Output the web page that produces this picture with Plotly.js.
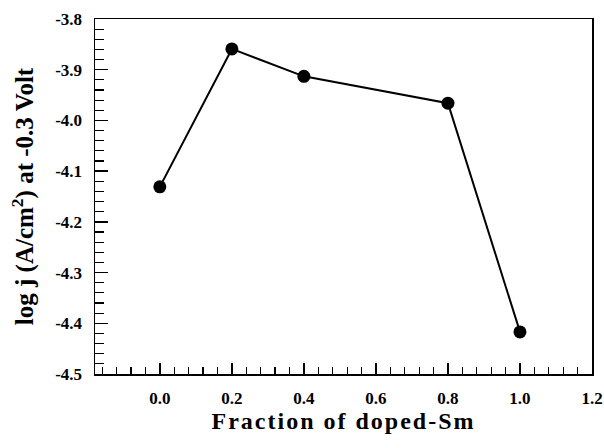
<!DOCTYPE html>
<html>
<head>
<meta charset="utf-8">
<script src="https://cdn.plot.ly/plotly-3.0.1.min.js"></script>
<style>
  html, body { margin: 0; padding: 0; background: #fff; }
  #chart { width: 604px; height: 448px; }
  /* slightly wider lettering for the horizontal axis title */
  #chart .xtitle { letter-spacing: 2px; }
</style>
</head>
<body>
<div id="chart"></div>
<script>
// Sm doping fraction vs. log current density at -0.3 V
const fraction = [0.0, 0.2, 0.4, 0.8, 1.0];
const logJ = [-4.131, -3.859, -3.913, -3.966, -4.417];

const xTickVals = [0.0, 0.2, 0.4, 0.6, 0.8, 1.0, 1.2];
const xTickText = ['0.0', '0.2', '0.4', '0.6', '0.8', '1.0', '1.2'];
const yTickVals = [-4.5, -4.4, -4.3, -4.2, -4.1, -4.0, -3.9, -3.8];
const yTickText = ['-4.5', '-4.4', '-4.3', '-4.2', '-4.1', '-4.0', '-3.9', '-3.8'];

const serif = 'Liberation Serif';

const trace = {
  x: fraction,
  y: logJ,
  mode: 'lines+markers',
  line: { color: '#000', width: 2 },
  marker: { color: '#000', size: 13 },
  cliponaxis: false,
  showlegend: false
};

const axisBase = {
  showline: true,
  linecolor: '#000',
  linewidth: 1.5,
  mirror: true,
  ticks: 'inside',
  tickcolor: '#000',
  tickwidth: 1.5,
  showgrid: false,
  zeroline: false,
  tickmode: 'array',
  ticklabelstandoff: 8,
  tickfont: { family: serif, size: 17, color: '#000', weight: 'bold' }
};

const layout = {
  width: 604,
  height: 448,
  margin: { l: 95, r: 12, t: 19, b: 74 },
  paper_bgcolor: '#fff',
  plot_bgcolor: '#fff',
  xaxis: Object.assign({}, axisBase, {
    range: [-0.18, 1.2],
    tickvals: xTickVals,
    ticktext: xTickText,
    ticklen: 11,
    minor: { dtick: 0.04, tick0: 0, ticks: 'inside', ticklen: 7, tickwidth: 1.2, tickcolor: '#000' },
    title: { text: 'Fraction of doped-Sm', font: { family: serif, size: 24, color: '#000', weight: 'bold' }, standoff: 2 }
  }),
  yaxis: Object.assign({}, axisBase, {
    range: [-4.5, -3.8],
    tickvals: yTickVals,
    ticktext: yTickText,
    ticklen: 13,
    minor: { dtick: 0.02, tick0: -4.5, ticks: 'inside', ticklen: 9, tickwidth: 1.2, tickcolor: '#000' },
    title: { text: 'log j (A/cm<sup>2</sup>) at -0.3 Volt', font: { family: serif, size: 25, color: '#000', weight: 'bold' }, standoff: 14 }
  })
};

Plotly.newPlot('chart', [trace], layout, { displayModeBar: false, staticPlot: true });
</script>
</body>
</html>
